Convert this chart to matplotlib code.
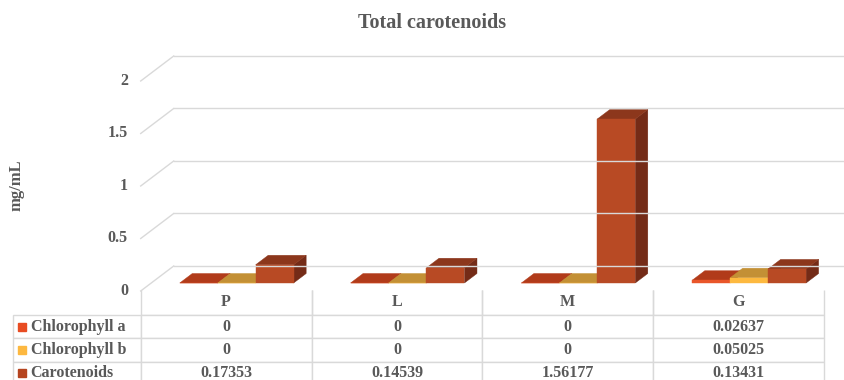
import matplotlib.pyplot as plt
from matplotlib.patches import Polygon

CATEGORIES = ["P", "L", "M", "G"]
SERIES = ["Chlorophyll a", "Chlorophyll b", "Carotenoids"]
CHL_A = [0, 0, 0, 0.02637]
CHL_B = [0, 0, 0, 0.05025]
CAROTENOIDS = [0.17353, 0.14539, 1.56177, 0.13431]
Y_TICKS = [0, 0.5, 1, 1.5, 2]
TICK_LABELS = ["0", "0.5", "1", "1.5", "2"]

# front / top / side shading for each series
FACE_COLORS = [
    ("#E9562A", "#B13B1A", "#9C3316"),
    ("#FDB93F", "#C39035", "#B07F2A"),
    ("#B84A24", "#8C371C", "#742B17"),
]
KEY_COLORS = ["#E84C22", "#FDB840", "#B5441F"]
GRID = "#D9D9D9"
TEXT = "#595959"
FONT = "Liberation Serif"

# oblique projection: full floor depth in data units
DEPTH_X = 33 / 170.8
DEPTH_Y = 25 / 105
BAR_D0, BAR_D1 = 0.32, 0.70
BAR_W = 2 / 9
CLUSTER_PAD = 1 / 6


def draw_bar(ax, x0, value, colors):
    front, top, side = colors
    w = BAR_W
    fx0, fy0 = x0 + BAR_D0 * DEPTH_X, BAR_D0 * DEPTH_Y
    bx0, by0 = x0 + BAR_D1 * DEPTH_X, BAR_D1 * DEPTH_Y
    side_pts = [(fx0 + w, fy0), (bx0 + w, by0), (bx0 + w, by0 + value), (fx0 + w, fy0 + value)]
    top_pts = [(fx0, fy0 + value), (fx0 + w, fy0 + value), (bx0 + w, by0 + value), (bx0, by0 + value)]
    front_pts = [(fx0, fy0), (fx0 + w, fy0), (fx0 + w, fy0 + value), (fx0, fy0 + value)]
    for pts, c in ((side_pts, side), (top_pts, top), (front_pts, front)):
        ax.add_patch(Polygon(pts, closed=True, facecolor=c, edgecolor=c, linewidth=0.3))


def main() -> None:
    fig = plt.figure(figsize=(8.45, 3.8), dpi=100)
    W, H = 845, 380
    left_px, right_px, base_px, top_px = 140.7, 824.0, 291.0, 40.0
    ax = fig.add_axes([left_px / W, (H - base_px) / H, (right_px - left_px) / W, (base_px - top_px) / H])
    ax.set_xlim(0, 4)
    ax.set_ylim(0, (base_px - top_px) / 105)
    ax.axis("off")

    # walls: back gridlines and the slanted lines on the side wall
    for v, lab in zip(Y_TICKS, TICK_LABELS):
        ax.plot([DEPTH_X, 4.3], [v + DEPTH_Y] * 2, color=GRID, lw=1, clip_on=False)
        ax.plot([0, DEPTH_X], [v, v + DEPTH_Y], color=GRID, lw=1, clip_on=False)
        ax.text(-0.075, v, lab, ha="right", va="center", fontsize=11.5,
                family=FONT, weight="bold", color=TEXT)

    series_values = [CHL_A, CHL_B, CAROTENOIDS]
    for i in range(len(CATEGORIES)):
        for j, values in enumerate(series_values):
            draw_bar(ax, i + CLUSTER_PAD + j * BAR_W, values[i], FACE_COLORS[j])

    # data table under the plot
    cell_text = []
    for name, values in zip(SERIES, series_values):
        cell_text.append([name] + [f"{v:g}" if v == 0 else f"{v:.5f}" for v in values])
    label_w = 128 / (right_px - left_px)
    header_px, row_px = 25.0, 23.3
    total_px = header_px + 3 * row_px
    table_top = (base_px - 290) / (base_px - top_px)
    table_h = total_px / (base_px - top_px)
    table = ax.table(
        cellText=cell_text,
        colLabels=[""] + CATEGORIES,
        colWidths=[label_w] + [0.25] * 4,
        cellLoc="center",
        bbox=[-label_w, table_top - table_h, 1 + label_w, table_h],
    )
    table.auto_set_font_size(False)
    for (r, c), cell in table.get_celld().items():
        cell.set_height(header_px if r == 0 else row_px)
        cell.set_edgecolor(GRID)
        cell.set_linewidth(1)
        cell.get_text().set_fontsize(11.5)
        cell.get_text().set_fontfamily(FONT)
        cell.get_text().set_fontweight("bold")
        cell.get_text().set_color(TEXT)
        cell.set_clip_on(False)
        if r == 0:
            cell.visible_edges = "open" if c == 0 else "BLR"
        if c == 0 and r > 0:
            cell.PAD = 18 / 128
            cell.get_text().set_horizontalalignment("left")
            cell._loc = "left"

    # colour keys in the row-label column
    unit = table_h / total_px
    for k, color in enumerate(KEY_COLORS):
        y = table_top - unit * (header_px + row_px * (k + 0.5))
        ax.plot([-label_w + 9 / (right_px - left_px)], [y], marker="s", markersize=6,
                color=color, transform=ax.transAxes, clip_on=False)

    fig.text(432 / W, (H - 23) / H, "Total carotenoids", ha="center", va="center",
             fontsize=14.5, family=FONT, weight="bold", color=TEXT)
    fig.text(17 / W, (H - 185) / H, "mg/mL", ha="center", va="center", rotation=90,
             fontsize=12, family=FONT, weight="bold", color=TEXT)

    fig.savefig("out.png", dpi=100, facecolor="white")
    plt.close(fig)


if __name__ == "__main__":
    main()
